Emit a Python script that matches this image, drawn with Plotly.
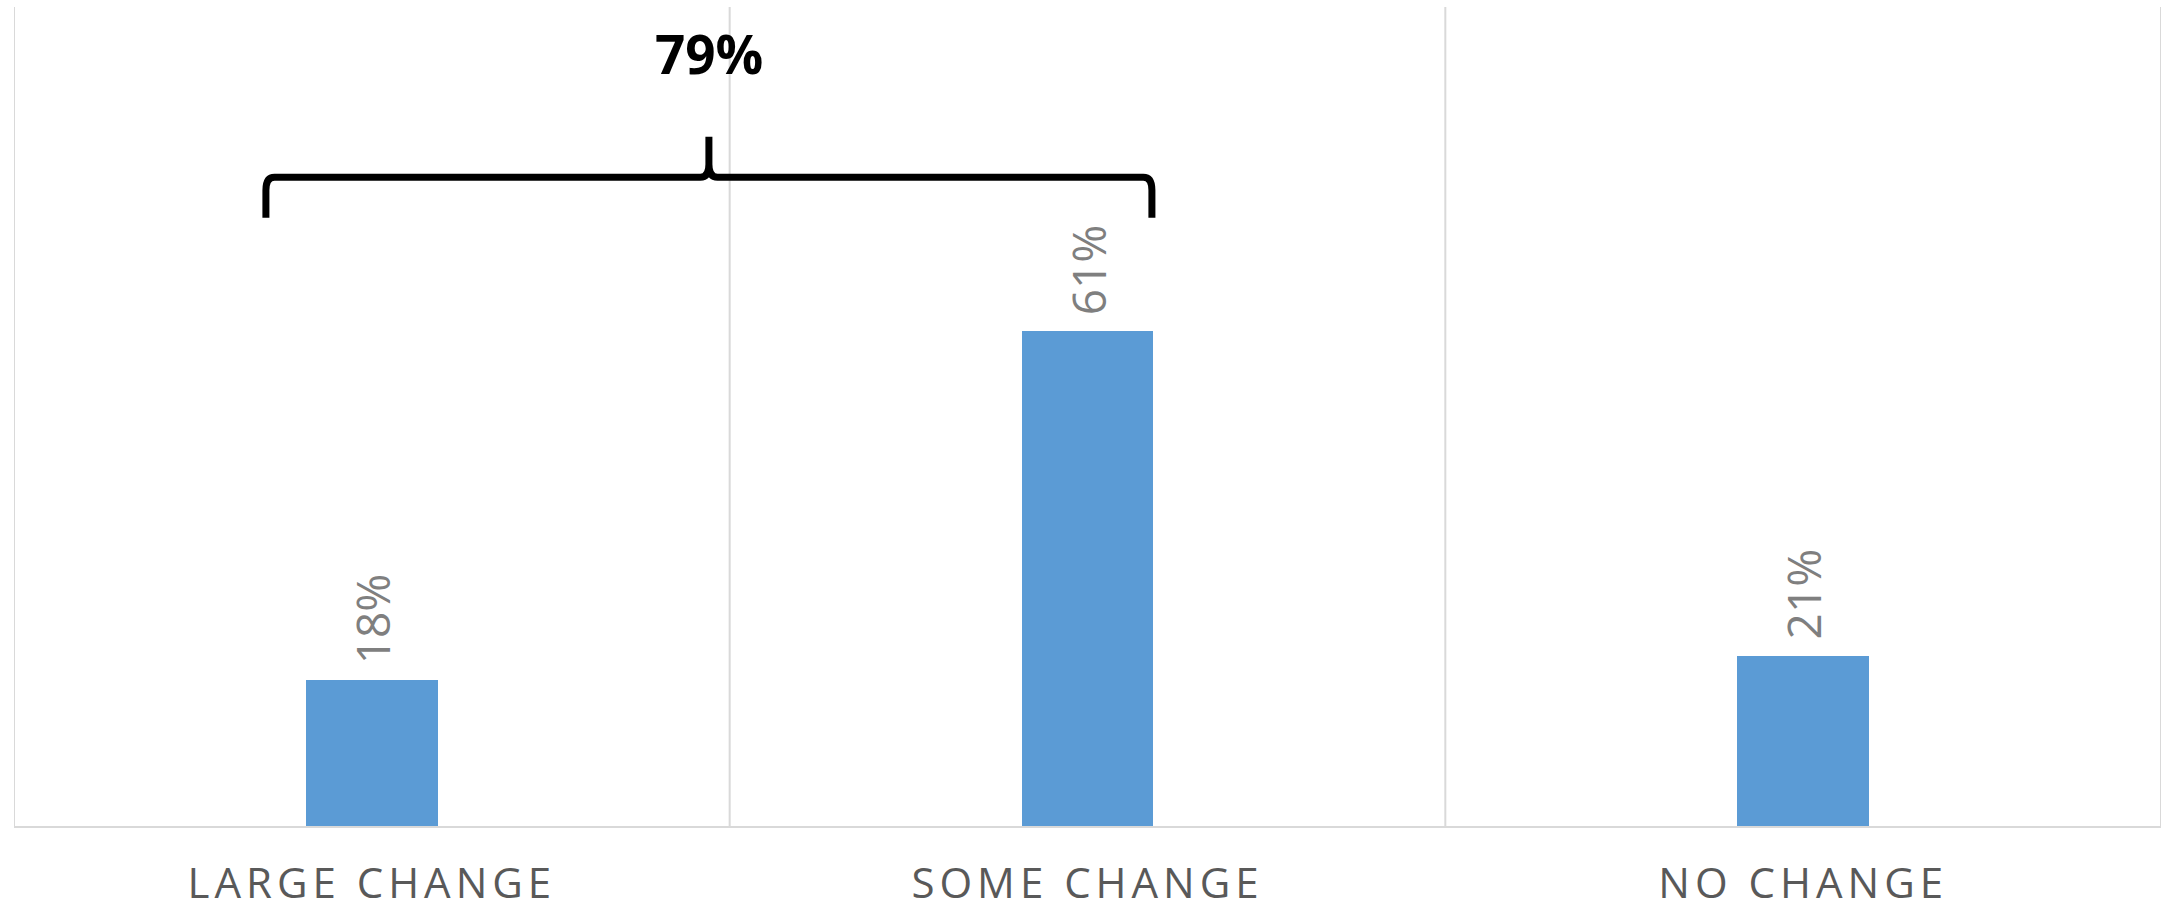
import plotly.graph_objects as go

# Survey answers: how much things changed
categories = ["LARGE CHANGE", "SOME CHANGE", "NO CHANGE"]
shares = [18, 61, 21]          # percent of respondents
combined_label = "79%"         # large + some change

bar_color = "#5B9BD5"
grid_color = "#D9D9D9"
label_grey = "#7F7F7F"
axis_text = "#595959"

x_pos = list(range(len(categories)))
y_top = 101

fig = go.Figure(
    go.Bar(
        x=x_pos,
        y=shares,
        width=0.184,
        marker=dict(color=bar_color, line=dict(width=0)),
        hoverinfo="skip",
    )
)

# rotated value labels above each bar
for xi, v in zip(x_pos, shares):
    fig.add_annotation(
        x=xi, y=v, xref="x", yref="y",
        text=f"{v}%", textangle=-90, showarrow=False,
        xanchor="center", yanchor="bottom", yshift=14,
        font=dict(family="Open Sans", size=46, color=label_grey),
    )

# category separators and plot frame
for b in [-0.5, 0.5, 1.5, 2.5]:
    fig.add_shape(type="line", xref="x", yref="y", x0=b, x1=b, y0=0, y1=y_top,
                  line=dict(color=grid_color, width=2), layer="below")

# curly brace grouping the first two answers
xl, xr = -0.148, 1.09
xm = (xl + xr) / 2
lvl, end, tip = 80, 75, 85
dx, dy = 0.012, 1.6
brace = (
    f"M {xl},{end} L {xl},{lvl - dy} Q {xl},{lvl} {xl + dx},{lvl} "
    f"L {xm - dx},{lvl} Q {xm},{lvl} {xm},{lvl + dy} L {xm},{tip} "
    f"M {xm},{lvl + dy} Q {xm},{lvl} {xm + dx},{lvl} "
    f"L {xr - dx},{lvl} Q {xr},{lvl} {xr},{lvl - dy} L {xr},{end}"
)
fig.add_shape(type="path", xref="x", yref="y", path=brace,
              line=dict(color="black", width=7))
fig.add_annotation(
    x=xm, y=95.3, xref="x", yref="y", text=combined_label, showarrow=False,
    xanchor="center", yanchor="middle",
    font=dict(family="Open Sans", size=53, color="black", weight="bold"),
)

tick_text = [f'<span style="letter-spacing:5px">{c}</span>' for c in categories]

fig.update_layout(
    width=2165, height=916,
    margin=dict(l=14, r=4, t=7, b=90),
    paper_bgcolor="white", plot_bgcolor="white",
    showlegend=False,
    bargap=0,
    xaxis=dict(
        range=[-0.5, 2.5], tickvals=x_pos, ticktext=tick_text,
        showgrid=False, zeroline=False, ticks="", automargin=False,
        showline=True, linecolor=grid_color, linewidth=2,
        tickfont=dict(family="Open Sans", size=42, color=axis_text),
        ticklabelstandoff=20,
    ),
    yaxis=dict(range=[0, y_top], visible=False, showgrid=False, zeroline=False),
)

fig.write_html("out.html")
